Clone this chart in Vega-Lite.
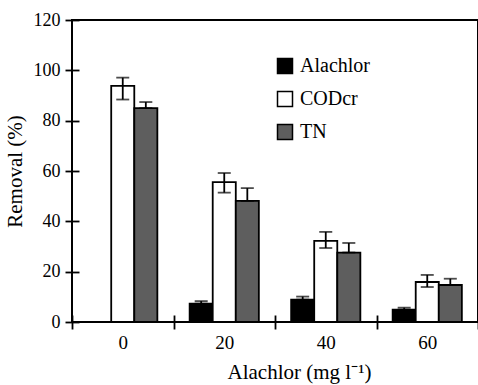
{
  "$schema": "https://vega.github.io/schema/vega-lite/v6.json",
  "autosize": "none",
  "padding": {"left": 72, "top": 20, "right": 0, "bottom": 63},
  "width": 406,
  "height": 302,
  "background": "white",
  "config": {
    "font": "Liberation Serif",
    "view": {"stroke": "black", "strokeWidth": 2},
    "axis": {
      "labelFont": "Liberation Serif",
      "titleFont": "Liberation Serif",
      "labelColor": "black",
      "titleColor": "black",
      "tickColor": "black",
      "tickWidth": 1.8,
      "titleFontWeight": "normal",
      "grid": false,
      "domain": false
    },
    "legend": {"labelFont": "Liberation Serif", "labelColor": "black"}
  },
  "data": {
    "values": [
      {"conc": "0", "type": "Alachlor", "value": 0},
      {"conc": "0", "type": "CODcr", "value": 93.8, "low": 88.4, "high": 97.1},
      {"conc": "0", "type": "TN", "value": 85.0, "low": 85.0, "high": 87.4},
      {"conc": "20", "type": "Alachlor", "value": 7.3, "low": 7.3, "high": 8.3},
      {"conc": "20", "type": "CODcr", "value": 55.6, "low": 51.4, "high": 59.2},
      {"conc": "20", "type": "TN", "value": 48.1, "low": 48.1, "high": 53.2},
      {"conc": "40", "type": "Alachlor", "value": 8.9, "low": 8.9, "high": 10.1},
      {"conc": "40", "type": "CODcr", "value": 32.2, "low": 29.4, "high": 35.8},
      {"conc": "40", "type": "TN", "value": 27.6, "low": 27.6, "high": 31.4},
      {"conc": "60", "type": "Alachlor", "value": 4.9, "low": 4.9, "high": 5.7},
      {"conc": "60", "type": "CODcr", "value": 15.9, "low": 13.9, "high": 18.7},
      {"conc": "60", "type": "TN", "value": 14.7, "low": 14.7, "high": 17.2}
    ]
  },
  "encoding": {
    "x": {
      "field": "conc",
      "type": "nominal",
      "sort": ["0", "20", "40", "60"],
      "scale": {"paddingInner": 0, "paddingOuter": 0},
      "axis": {
        "title": "Alachlor (mg l\u207b\u00b9)",
        "labelAngle": 0,
        "labelFontSize": 19,
        "titleFontSize": 21,
        "tickBand": "extent",
        "offset": -7,
        "tickSize": 14,
        "labelPadding": 4,
        "titleX": 227,
        "titleY": 63,
        "titleBaseline": "alphabetic"
      }
    },
    "xOffset": {
      "field": "type",
      "type": "nominal",
      "scale": {"domain": ["Alachlor", "CODcr", "TN"], "paddingInner": 0, "paddingOuter": 0.7}
    }
  },
  "layer": [
    {
      "mark": {"type": "bar", "stroke": "black", "strokeWidth": 1.8},
      "encoding": {
        "y": {
          "field": "value",
          "type": "quantitative",
          "scale": {"domain": [0, 120]},
          "axis": {
            "title": "Removal (%)",
            "values": [0, 20, 40, 60, 80, 100, 120],
            "labelFontSize": 18,
            "titleFontSize": 21,
            "offset": -7,
            "tickSize": 14,
            "labelPadding": 5,
            "titlePadding": 8
          }
        },
        "fill": {
          "field": "type",
          "type": "nominal",
          "scale": {"domain": ["Alachlor", "CODcr", "TN"], "range": ["#000000", "#ffffff", "#5e5e5e"]},
          "legend": {
            "title": null,
            "orient": "none",
            "legendX": 203,
            "legendY": 36,
            "labelFontSize": 20,
            "symbolType": "square",
            "symbolSize": 225,
            "symbolStrokeColor": "black",
            "symbolStrokeWidth": 1.5,
            "labelOffset": 5,
            "rowPadding": 11
          }
        }
      }
    },
    {
      "transform": [{"filter": "isValid(datum.high)"}],
      "mark": {"type": "rule", "color": "black", "strokeWidth": 1.8},
      "encoding": {
        "y": {"field": "low", "type": "quantitative"},
        "y2": {"field": "high"}
      }
    },
    {
      "transform": [{"filter": "isValid(datum.high)"}],
      "mark": {"type": "tick", "orient": "horizontal", "size": 13, "thickness": 1.8, "color": "black"},
      "encoding": {
        "y": {"field": "high", "type": "quantitative"}
      }
    },
    {
      "transform": [{"filter": "isValid(datum.high)"}],
      "mark": {"type": "tick", "orient": "horizontal", "size": 13, "thickness": 1.8, "color": "black"},
      "encoding": {
        "y": {"field": "low", "type": "quantitative"}
      }
    }
  ]
}
